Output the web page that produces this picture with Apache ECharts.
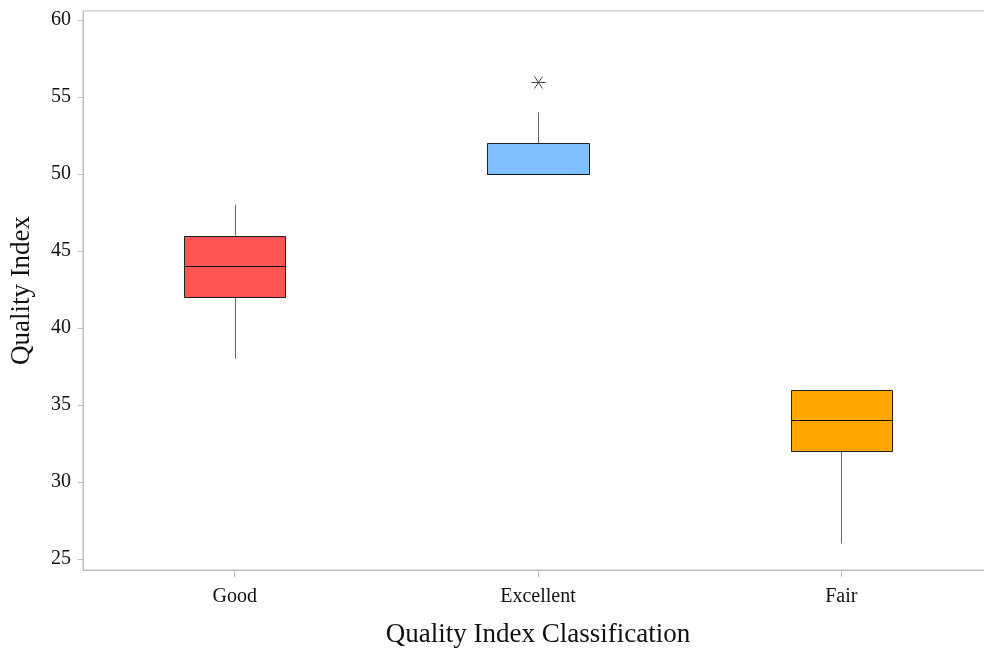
<!DOCTYPE html>
<html>
<head>
<meta charset="utf-8">
<title>Quality Index by Classification</title>
<script src="https://cdn.jsdelivr.net/npm/echarts@6/dist/echarts.min.js"></script>
<style>
  html, body { margin: 0; padding: 0; background: #ffffff; overflow: hidden; }
  /* plot frame runs slightly past the right edge of the window */
  #chart { width: 993px; height: 653px; }
</style>
</head>
<body>
<div id="chart"></div>
<script>
// Box plot summary per classification
const categories = ['Good', 'Excellent', 'Fair'];
const lowerWhisker = [38, 50, 26];
const q1 = [42, 50, 32];
const median = [44, 50, 34];
const q3 = [46, 52, 36];
const upperWhisker = [48, 54, 36];
const boxColors = ['#FF5555', '#80BFFF', '#FFA500'];

// Points outside the whiskers
const outlierCategory = ['Excellent'];
const outlierValue = [56];

// Value axis ticks
const yTicks = [25, 30, 35, 40, 45, 50, 55, 60];

const FONT = "'Liberation Serif', 'DejaVu Serif', serif";
const AXIS_GREY = '#bdbdbd';

const boxData = categories.map((c, i) => [i, lowerWhisker[i], q1[i], median[i], q3[i], upperWhisker[i]]);
const outlierData = outlierCategory.map((c, i) => [categories.indexOf(c), outlierValue[i]]);

function crisp(v) { return Math.round(v) + 0.5; }

function renderBox(params, api) {
  const idx = api.value(0);
  const band = api.size([1, 0])[0];
  const half = band / 6;
  const pLow = api.coord([idx, api.value(1)]);
  const pQ1 = api.coord([idx, api.value(2)]);
  const pMed = api.coord([idx, api.value(3)]);
  const pQ3 = api.coord([idx, api.value(4)]);
  const pHigh = api.coord([idx, api.value(5)]);
  const cx = crisp(pQ1[0]);
  const left = crisp(pQ1[0] - half);
  const right = crisp(pQ1[0] + half);
  const children = [];
  const whiskerStyle = { stroke: '#666666', lineWidth: 1 };
  if (pHigh[1] < pQ3[1]) {
    children.push({ type: 'line', shape: { x1: cx, y1: pHigh[1], x2: cx, y2: pQ3[1] }, style: whiskerStyle });
  }
  if (pLow[1] > pQ1[1]) {
    children.push({ type: 'line', shape: { x1: cx, y1: pQ1[1], x2: cx, y2: pLow[1] }, style: whiskerStyle });
  }
  const top = crisp(pQ3[1]);
  const bottom = crisp(pQ1[1]);
  children.push({
    type: 'rect',
    shape: { x: left, y: top, width: right - left, height: bottom - top },
    style: { fill: boxColors[params.dataIndex], stroke: '#222222', lineWidth: 1 }
  });
  const my = crisp(pMed[1]);
  children.push({ type: 'line', shape: { x1: left, y1: my, x2: right, y2: my }, style: { stroke: '#111', lineWidth: 1 } });
  return { type: 'group', children: children };
}

function renderOutlier(params, api) {
  const p = api.coord([api.value(0), api.value(1)]);
  const x = Math.round(p[0]) + 0.5;
  const y = Math.round(p[1]) + 0.5;
  const st = { stroke: '#444', lineWidth: 1 };
  return {
    type: 'group',
    children: [
      { type: 'line', shape: { x1: x - 7, y1: y, x2: x + 7, y2: y }, style: st },
      { type: 'line', shape: { x1: x - 4, y1: y - 6, x2: x + 4, y2: y + 6 }, style: st },
      { type: 'line', shape: { x1: x + 4, y1: y - 6, x2: x - 4, y2: y + 6 }, style: st }
    ]
  };
}

const chart = echarts.init(document.getElementById('chart'), null, { renderer: 'canvas' });

chart.setOption({
  animation: false,
  backgroundColor: '#ffffff',
  grid: {
    left: 82,
    top: 11,
    bottom: 83,
    right: 0,
    show: true,
    borderColor: AXIS_GREY,
    borderWidth: 1,
    backgroundColor: 'transparent'
  },
  xAxis: {
    type: 'category',
    data: categories,
    boundaryGap: true,
    name: 'Quality Index Classification',
    nameLocation: 'middle',
    nameGap: 51,
    nameTextStyle: { fontFamily: FONT, fontSize: 27, color: '#111' },
    axisLine: { show: true, lineStyle: { color: AXIS_GREY, width: 1 } },
    axisTick: { show: true, alignWithLabel: true, length: 7, lineStyle: { color: AXIS_GREY } },
    axisLabel: { fontFamily: FONT, fontSize: 20, color: '#111', margin: 17 },
    splitLine: { show: false }
  },
  yAxis: {
    type: 'value',
    min: 24.27,
    max: 60.6,
    name: 'Quality Index',
    nameLocation: 'middle',
    nameGap: 48,
    nameTextStyle: { fontFamily: FONT, fontSize: 27, color: '#111' },
    axisLine: { show: true, lineStyle: { color: AXIS_GREY, width: 1 } },
    axisTick: { show: true, length: 5, customValues: yTicks, lineStyle: { color: AXIS_GREY } },
    axisLabel: { fontFamily: FONT, fontSize: 20, color: '#111', margin: 12, customValues: yTicks },
    splitLine: { show: false }
  },
  series: [
    {
      type: 'custom',
      name: 'Quality Index',
      renderItem: renderBox,
      encode: { x: 0, y: [1, 2, 3, 4, 5] },
      data: boxData,
      clip: false
    },
    {
      type: 'custom',
      name: 'Outliers',
      renderItem: renderOutlier,
      encode: { x: 0, y: 1 },
      data: outlierData
    }
  ]
});
</script>
</body>
</html>
